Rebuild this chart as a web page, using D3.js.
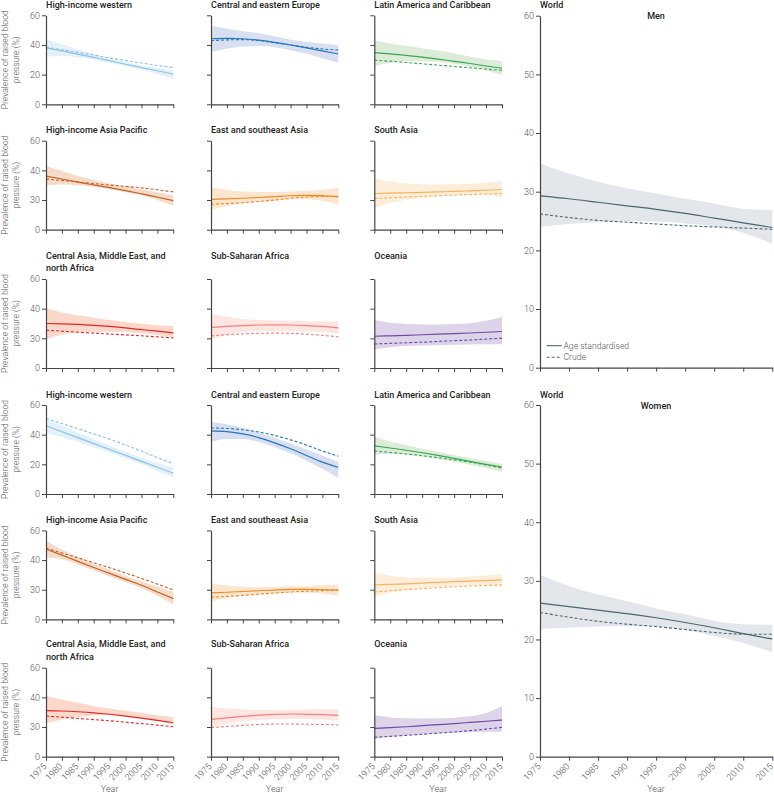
<!DOCTYPE html>
<html><head><meta charset="utf-8">
<script src="https://cdn.jsdelivr.net/npm/d3@7"></script>
<style>body{margin:0;background:#fff}svg{display:block;font-family:Roboto,"Open Sans",sans-serif}</style>
</head><body><svg id="c" width="774" height="793"></svg>
<script>
const years=[1975,1980,1985,1990,1995,2000,2005,2010,2015];
const regions=["High-income western","Central and eastern Europe","Latin America and Caribbean","High-income Asia Pacific","East and southeast Asia","South Asia","Central Asia, Middle East, and north Africa","Sub-Saharan Africa","Oceania"];
const lineColors=["#8cc2e6","#2676bd","#3aa655","#c45d28","#f08a26","#f6b35c","#e2262b","#f2817e","#6e4aa3","#4b6773"];
const bandColors=["#e4f1fa","#d7dff0","#dcecd8","#f5dcc9","#fde6cf","#fdeedb","#fcd8ca","#fde5e2","#ddd4ea","#e3e7eb"];
const smallTicks=[0,20,40,60];
const smallTickLabelsTop=["0","20","40","60"];
const smallTickLabelsOther=["0","30","40","60"];
const worldTicks=[0,10,20,30,40,50,60];
const xTicks=[1975,1980,1985,1990,1995,2000,2005,2010,2015];

// Men, per region (order of regions), then World
const menAge=[
 [38,36,33.8,31.6,29.4,27,24.8,22.6,20.4],
 [44.2,44.4,44.2,43.2,41.8,40,38,36,33.9],
 [34.8,34,33,31.8,30.5,29,27.5,25.8,24.3],
 [36.1,34.2,32.1,30.2,28.4,26.4,24.2,21.9,19.6],
 [20.5,20.8,21.2,21.7,22.3,22.9,23.2,23,22.3],
 [24.4,24.6,24.9,25.2,25.5,25.8,26.2,26.6,27.1],
 [30,29.8,29.4,28.8,28,27,25.9,24.8,23.7],
 [27.3,28,28.6,29,29.1,29,28.6,28,27.1],
 [21.4,21.7,22,22.4,22.8,23.2,23.6,24.1,24.6],
 [29.3,28.8,28.2,27.6,27,26.3,25.5,24.7,23.9]];
const menCrude=[
 [38.5,36.8,35,33.2,31.2,29.5,27.8,26.2,24.7],
 [42.9,43.4,43.6,43,41.5,40,38.5,37.3,36.6],
 [29.7,29,28.2,27.3,26.4,25.5,24.6,23.7,22.9],
 [34.1,33.2,32.2,31.1,30.1,29.2,28.2,26.9,25.5],
 [17.3,17.6,18.2,19,20,21.2,22,22.4,22.3],
 [21,21.5,22,22.5,22.9,23.3,23.7,24.1,24.4],
 [25.5,24.8,24.1,23.5,22.9,22.3,21.7,21,20.3],
 [21.7,22.4,23,23.4,23.5,23.3,22.8,22,21],
 [16.2,16.6,17,17.4,17.9,18.4,18.9,19.5,20.1],
 [26.2,25.6,25.1,24.8,24.5,24.2,24,23.8,23.6]];
const menLow=[
 [32,32.5,31.5,30,28,25.6,23.3,20.5,17],
 [35.3,37.5,39,39.3,38.5,36.5,34,31,28],
 [25.8,28,29,29,28.5,27.3,25.5,23,19.8],
 [30,30.5,30,28.8,27.2,25.2,23,20,16.2],
 [13.3,16,17.8,18.8,19.6,20.3,20.5,19.5,16.9],
 [14.6,18,20,21.5,22.5,23.2,23.5,23.2,21.7],
 [19.4,22.5,24,24.5,24.5,24.2,23.5,22.3,20.8],
 [19.2,22.5,24.2,24.8,24.8,24.8,24.6,24.2,23.3],
 [12.4,14,14.8,15.2,15.4,15.6,15.8,16,16],
 [24,24.5,24.8,24.9,24.9,24.6,24.1,23,21.1]];
const menHigh=[
 [43.8,40.5,37,34,31,28.5,26.3,24.5,23],
 [53,51,49.3,47.9,45.8,43.5,42,41,40],
 [43.2,41,39.3,37.8,36.2,34.3,32.3,30.3,29.2],
 [42.9,39.5,36.2,33.5,31.2,29.3,27.3,25.2,23],
 [28.6,26.8,25.8,25.5,25.5,25.8,26.2,27,28.2],
 [34.9,32.5,31.2,30.7,30.5,30.6,31,31.8,32.7],
 [40.2,37.5,35.5,33.8,32.3,31,29.8,28.8,28.4],
 [36.5,34.5,33,32.3,32,31.8,31.6,31.4,31.4],
 [32.3,30.5,29.6,29.4,29.4,29.6,30.2,31.8,34.3],
 [34.8,33.1,31.7,30.6,29.7,28.8,28,27.1,26.9]];
// Women
const womenAge=[
 [46,42,38,34,30,26,22,18,14],
 [42.5,42,40.5,38,34.5,30.5,26,21.5,18],
 [32.4,31,29.5,27.8,26,24,22,20,18.2],
 [47.5,43.3,39.1,35,31,27,23,18.5,14],
 [17.8,18.3,18.8,19.3,19.8,20.2,20.3,20.1,19.8],
 [23.2,23.6,24,24.5,25,25.4,25.8,26.2,26.6],
 [31,30.8,30.3,29.6,28.6,27.4,26,24.5,22.9],
 [25.2,26.2,27.2,28,28.6,28.8,28.6,28.3,27.9],
 [19.1,19.6,20.2,20.9,21.6,22.3,23.1,23.9,24.7],
 [26.2,25.6,25,24.4,23.7,22.9,22,21,20.1]];
const womenCrude=[
 [51,47.5,44,40.5,37,33,29,24.5,20.5],
 [44.5,44.2,43.3,41.8,39.5,36.5,33,29,25.5],
 [29,28,27,25.8,24.5,23,21.5,19.5,17.5],
 [48,44.8,41.5,38.2,34.8,31.3,27.6,23.8,20],
 [15,15.5,16.2,17,17.8,18.5,19,19.4,19.6],
 [18.5,19.3,20,20.7,21.4,22,22.5,22.9,23.2],
 [27.4,26.6,25.8,25,24.2,23.3,22.3,21.3,20.2],
 [19.6,20.4,21.1,21.7,22,22,21.9,21.7,21.4],
 [13.1,13.7,14.4,15.1,15.9,16.7,17.6,18.6,19.8],
 [24.6,23.8,23.1,22.6,22.2,21.7,21.2,20.9,20.9]];
const womenLow=[
 [41,38.5,35,31.5,28,24,20,15.5,11],
 [35,37,37,35,31.5,27.5,22.5,17,11],
 [26.3,27,26.5,25.2,23.6,21.8,19.8,17.5,14.8],
 [42,40.5,37,33,29,25,21,16,10],
 [12,14.5,16,17,17.5,18,18,17.5,16],
 [15,18,20,21,22,22.6,23,23,22],
 [22.5,25,26.8,27.8,28.1,27.5,26,24,21.4],
 [19.6,22.5,24,24.8,25.2,25.5,25.4,25,24.3],
 [11.9,13.5,14.5,15.2,15.8,16.2,16.5,16.8,16.9],
 [21.8,22,22.2,22.3,22.2,21.6,20.6,19.4,17.8]];
const womenHigh=[
 [50.5,46,41.5,37,32.5,28.5,24.5,21,18],
 [48.5,47,44.5,41.5,38,34,30,26,21.6],
 [38.4,35.5,33,30.5,28.5,26.3,24.3,22.3,20.2],
 [53,47,42,37.5,33.5,29.5,25.5,22,18.5],
 [24.5,22.8,22,21.8,22,22.3,22.6,23,23.5],
 [31.5,29.5,28.5,28.2,28.2,28.5,29,29.6,30.5],
 [41.1,38.5,36.3,34.2,32.5,31,29.5,28,26.6],
 [33.7,32.5,31.8,31.5,31.5,31.7,31.9,32,32],
 [28.1,26.5,25.9,25.8,25.9,26.3,27.2,29.5,34.2],
 [31.1,29.1,27.7,26.5,25.3,24.3,23.2,22.6,22.5]];

const svg=d3.select("#c");
const colX0=[46,211,374.3], colX1=[173.3,338.3,502];
const rowTop=[15.3,140.7,279,405,530.4,667.7], rowH=89;
const tickColor="#444", textColor="#555";

function drawSeries(g,x,y,age,crude,lo,hi,ci){
  const area=d3.area().x((d,i)=>x(years[i])).y0((d,i)=>y(lo[i])).y1((d,i)=>y(hi[i])).curve(d3.curveMonotoneX);
  g.append("path").attr("d",area(years)).attr("fill",bandColors[ci]);
  const line=d3.line().x((d,i)=>x(years[i])).y(d=>y(d)).curve(d3.curveMonotoneX);
  g.append("path").attr("d",line(crude)).attr("fill","none").attr("stroke",lineColors[ci]).attr("stroke-width",1.1).attr("stroke-dasharray","3,2");
  g.append("path").attr("d",line(age)).attr("fill","none").attr("stroke",lineColors[ci]).attr("stroke-width",1.2);
}
function styleAxis(ax){
  ax.selectAll(".domain").attr("stroke",tickColor).attr("stroke-width",1.2);
  ax.selectAll(".tick line").attr("stroke",tickColor).attr("stroke-width",1);
  ax.selectAll("text").attr("fill",textColor).style("font-size","9px").style("font-family","Roboto, sans-serif").style("font-weight",300);
}
function xAxis(g,x,yb,labels){
  const ax=g.append("g").attr("transform",`translate(0,${yb})`)
    .call(d3.axisBottom(x).tickValues(xTicks).tickFormat(labels?d3.format("d"):"").tickSize(4).tickSizeOuter(0));
  styleAxis(ax);
  if(labels){
    ax.selectAll("text").attr("text-anchor","end").attr("x",0).attr("y",0).attr("dy","0.35em")
      .attr("transform","translate(-1.5,8) rotate(-45)");
  }
}
function yLabels(row){
  const cy=rowTop[row]+rowH/2;
  const t=svg.append("text").attr("transform",`translate(9,${cy}) rotate(-90)`).attr("text-anchor","middle")
    .style("font-size","8.6px").attr("fill",textColor).style("font-weight",300);
  t.append("tspan").attr("x",0).attr("dy",-1).text("Prevalence of raised blood");
  t.append("tspan").attr("x",0).attr("dy",11).text("pressure (%)");
}

for(let sex=0;sex<2;sex++){
  const A=sex?womenAge:menAge, C=sex?womenCrude:menCrude, L=sex?womenLow:menLow, H=sex?womenHigh:menHigh;
  regions.forEach((r,i)=>{
    const row=sex*3+Math.floor(i/3), col=i%3;
    const top=rowTop[row], bot=top+rowH;
    const x=d3.scaleLinear().domain([1975,2015]).range([colX0[col],colX1[col]]);
    const y=d3.scaleLinear().domain([0,60]).range([bot,top]);
    const g=svg.append("g");
    drawSeries(g,x,y,A[i],C[i],L[i],H[i],i);
    if(col===0){
      const labs=(row%3===0)?smallTickLabelsTop:smallTickLabelsOther;
      const ay=g.append("g").attr("transform",`translate(${colX0[col]},0)`)
        .call(d3.axisLeft(y).tickValues(smallTicks).tickFormat((d,k)=>labs[k]).tickSize(4).tickPadding(2).tickSizeOuter(0));
      styleAxis(ay);
      yLabels(row);
    } else {
      const ay=g.append("g").attr("transform",`translate(${colX0[col]},0)`)
        .call(d3.axisLeft(y).tickValues(smallTicks).tickFormat("").tickSize(4).tickSizeOuter(0));
      styleAxis(ay);
    }
    xAxis(g,x,bot,row===5);
    const tt=svg.append("text").attr("x",colX0[col]).attr("fill","#222").style("font-size","9px").style("font-weight",500);
    if(row%3===2){
      const parts=r==="Central Asia, Middle East, and north Africa"?["Central Asia, Middle East, and","north Africa"]:[r];
      parts.forEach((p,k)=>tt.append("tspan").attr("x",colX0[col]).attr("y",top-20.5+k*12.6).text(p));
    } else {
      tt.attr("y",top-7.5).text(r);
    }
    if(row===5){
      svg.append("text").attr("x",(colX0[col]+colX1[col])/2).attr("y",792).attr("text-anchor","middle")
        .attr("fill",textColor).style("font-size","9px").style("font-weight",300).text("Year");
    }
  });
  const top=sex?405:15.7, bot=sex?756.7:367.7;
  const x=d3.scaleLinear().domain([1975,2015]).range([540,772.3]);
  const y=d3.scaleLinear().domain([0,60]).range([bot,top]);
  const g=svg.append("g");
  drawSeries(g,x,y,A[9],C[9],L[9],H[9],9);
  const ay=g.append("g").attr("transform","translate(540,0)")
    .call(d3.axisLeft(y).tickValues(worldTicks).tickFormat(d3.format("d")).tickSize(4).tickPadding(2).tickSizeOuter(0));
  styleAxis(ay);
  xAxis(g,x,bot,sex===1);
  svg.append("text").attr("x",540).attr("y",sex?397.5:7.5).attr("fill","#222").style("font-size","9px").style("font-weight",500).text("World");
  svg.append("text").attr("x",656).attr("y",top+3.5).attr("text-anchor","middle").attr("fill","#222").style("font-size","9px").style("font-weight",500).text(sex?"Women":"Men");
  if(sex===1){
    svg.append("text").attr("x",656).attr("y",792).attr("text-anchor","middle")
      .attr("fill",textColor).style("font-size","9px").style("font-weight",300).text("Year");
  } else {
    const lg=svg.append("g");
    [["Age standardised",null,345.7],["Crude","3,2",357.3]].forEach(([lab,dash,ly])=>{
      lg.append("line").attr("x1",546.7).attr("x2",561.7).attr("y1",ly).attr("y2",ly).attr("stroke",lineColors[9]).attr("stroke-width",1.1).attr("stroke-dasharray",dash);
      lg.append("text").attr("x",563.5).attr("y",ly+3).attr("fill",textColor).style("font-size","8.6px").style("font-weight",300).text(lab);
    });
  }
}
</script></body></html>
